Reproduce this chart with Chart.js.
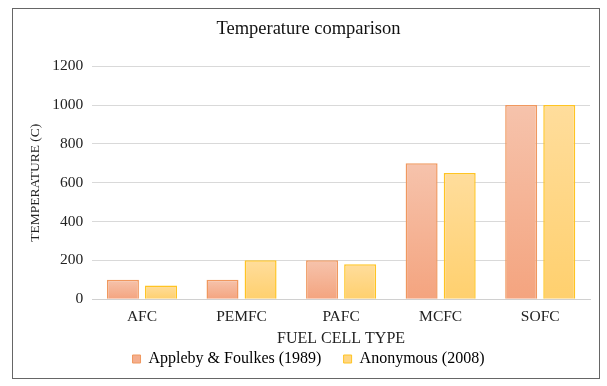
<!DOCTYPE html>
<html>
<head>
<meta charset="utf-8">
<script src="https://cdn.jsdelivr.net/npm/chart.js@4/dist/chart.umd.min.js"></script>
<style>
  body { margin: 0; background: #fff; }
  #box {
    position: absolute; left: 12px; top: 8px;
    width: 586px; height: 369px;
    border: 1px solid #666;
    background: #fff;
  }
</style>
</head>
<body>
<div id="box"><canvas id="myChart"></canvas></div>
<script>
const categories = ["AFC", "PEMFC", "PAFC", "MCFC", "SOFC"];
const appleby = [100, 100, 200, 700, 1000];
const anonymous = [70, 200, 180, 650, 1000];
const seriesNames = ["Appleby & Foulkes (1989)", "Anonymous (2008)"];
const yTicks = [0, 200, 400, 600, 800, 1000, 1200];

const colors = {
    orange: { top: "#F6C3AC", bottom: "#F4A47F", border: "#F0985F", flat: "#F4AE8E" },
    yellow: { top: "#FFDD9C", bottom: "#FFD06E", border: "#FFC423", flat: "#FFD684" },
};

function barGradient(c) {
    return (ctx) => {
        const chart = ctx.chart;
        const y = chart.scales && chart.scales.y;
        if (!y || ctx.raw === undefined) return c.flat;
        const top = y.getPixelForValue(ctx.raw);
        const bottom = y.getPixelForValue(0);
        if (!isFinite(top) || !isFinite(bottom) || top === bottom) return c.flat;
        const g = chart.ctx.createLinearGradient(0, top, 0, bottom);
        g.addColorStop(0, c.top);
        g.addColorStop(1, c.bottom);
        return g;
    };
}

const serif = "'Liberation Serif', 'Times New Roman', serif";

const ctx = document.getElementById("myChart");
const chart = new Chart(ctx, {
    type: "bar",
    data: {
        labels: categories,
        datasets: [
            {
                label: seriesNames[0],
                data: appleby,
                backgroundColor: barGradient(colors.orange),
                borderColor: colors.orange.border,
                borderWidth: 1.5,
                barPercentage: 0.84,
                categoryPercentage: 0.765,
            },
            {
                label: seriesNames[1],
                data: anonymous,
                backgroundColor: barGradient(colors.yellow),
                borderColor: colors.yellow.border,
                borderWidth: 1.5,
                barPercentage: 0.84,
                categoryPercentage: 0.765,
            },
        ],
    },
    options: {
        responsive: true,
        maintainAspectRatio: false,
        animation: false,
        layout: { padding: { left: 14, right: 9, top: 6, bottom: 1 } },
        plugins: {
            title: {
                display: true,
                text: "Temperature comparison",
                color: "#111",
                font: { family: serif, size: 18.5, weight: "normal" },
                padding: { top: 3, bottom: 26 },
            },
            legend: {
                position: "bottom",
                labels: {
                    color: "#222",
                    font: { family: serif, size: 16 },
                    boxWidth: 8,
                    boxHeight: 8,
                    padding: 3,
                    // en spaces widen the gap between the two legend entries
                    generateLabels: () => [
                        { text: seriesNames[0] + "\u2002\u2002\u2009", fillStyle: colors.orange.flat, strokeStyle: colors.orange.border, lineWidth: 1, datasetIndex: 0 },
                        { text: seriesNames[1], fillStyle: colors.yellow.flat, strokeStyle: colors.yellow.border, lineWidth: 1, datasetIndex: 1 },
                    ],
                },
            },
            tooltip: { enabled: false },
        },
        scales: {
            x: {
                grid: { display: false },
                border: { color: "#d0d0d0", width: 1 },
                ticks: { color: "#222", font: { family: serif, size: 15.5 }, padding: 0 },
                title: {
                    display: true,
                    text: "FUEL CELL TYPE",
                    color: "#222",
                    font: { family: serif, size: 16 },
                    padding: { top: 3, bottom: 0 },
                },
            },
            y: {
                min: 0,
                max: 1200,
                afterBuildTicks: (axis) => {
                    axis.ticks = yTicks.map((v) => ({ value: v }));
                },
                grid: { color: "#d9d9d9", drawTicks: false },
                border: { display: false },
                ticks: {
                    color: "#222",
                    font: { family: serif, size: 15.5 },
                    padding: 9,
                    callback: (v) => String(v),
                },
                title: {
                    display: true,
                    text: "TEMPERATURE (C)",
                    color: "#222",
                    font: { family: serif, size: 13.5 },
                    padding: { top: 0, bottom: 0 },
                },
            },
        },
    },
});
</script>
</body>
</html>
